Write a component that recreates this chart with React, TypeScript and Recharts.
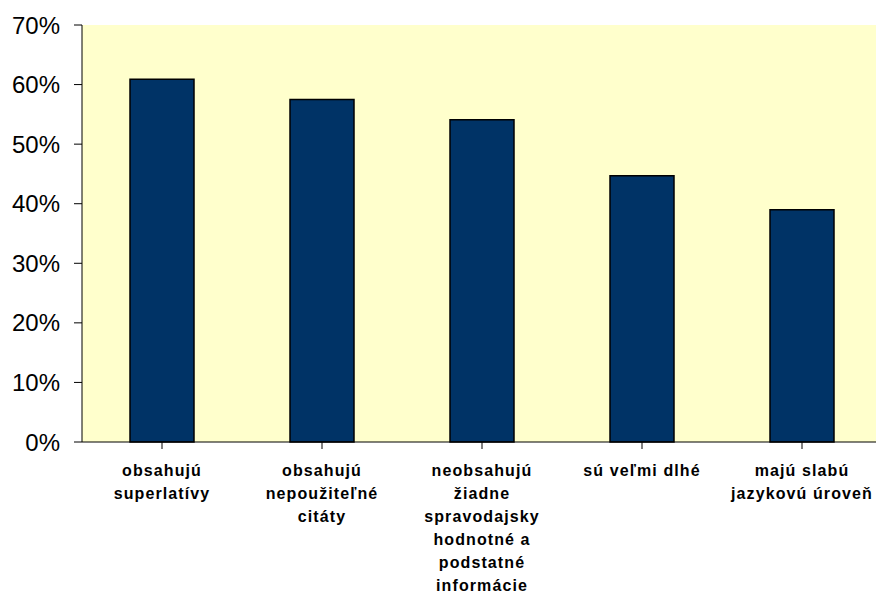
import React from "react";
import { BarChart, Bar, XAxis, YAxis, CartesianGrid } from "recharts";

// Share of articles by identified shortcoming
const categories: string[] = [
  "obsahujú\nsuperlatívy",
  "obsahujú\nnepoužiteľné\ncitáty",
  "neobsahujú\nžiadne\nspravodajsky\nhodnotné a\npodstatné\ninformácie",
  "sú veľmi dlhé",
  "majú slabú\njazykovú úroveň",
];
const shares: number[] = [0.609, 0.575, 0.541, 0.447, 0.39];
const yTicks: number[] = [0, 0.1, 0.2, 0.3, 0.4, 0.5, 0.6, 0.7];

const data = categories.map((name, i) => ({ name, value: shares[i] }));

const FONT = "'Liberation Sans', Arial, sans-serif";

const CategoryTick = (props: any) => {
  const { x, payload } = props;
  const lines: string[] = String(payload.value).split("\n");
  return (
    <text
      x={x}
      y={476}
      textAnchor="middle"
      fontFamily={FONT}
      fontWeight="bold"
      fontSize={16}
      letterSpacing={1.1}
      fill="#000"
    >
      {lines.map((line, i) => (
        <tspan key={i} x={x} dy={i === 0 ? 0 : 23}>
          {line}
        </tspan>
      ))}
    </text>
  );
};

export default function App() {
  return (
    <div
      style={{
        position: "absolute",
        left: 0,
        top: 0,
        width: 876,
        height: 596,
        overflow: "hidden",
        background: "#fff",
      }}
    >
      <BarChart
        width={900}
        height={596}
        data={data}
        margin={{ top: 25, right: 18, bottom: 0, left: 0 }}
        barCategoryGap="30%"
      >
        <CartesianGrid fill="#FFFFCC" horizontal={false} vertical={false} stroke="none" />
        <XAxis
          dataKey="name"
          height={154}
          interval={0}
          axisLine={{ stroke: "#000", strokeWidth: 1 }}
          tickLine={{ stroke: "#000" }}
          tickSize={7}
          tick={<CategoryTick />}
        />
        <YAxis
          width={82}
          domain={[0, 0.7]}
          ticks={yTicks}
          interval={0}
          tickFormatter={(v: number) => `${Math.round(v * 100)}%`}
          axisLine={{ stroke: "#000", strokeWidth: 1 }}
          tickLine={{ stroke: "#000" }}
          tickSize={8}
          tickMargin={14}
          tick={{ fill: "#000", fontSize: 24, fontFamily: FONT }}
        />
        <Bar
          dataKey="value"
          fill="#003366"
          stroke="#000"
          strokeWidth={1.5}
          isAnimationActive={false}
        />
      </BarChart>
    </div>
  );
}
